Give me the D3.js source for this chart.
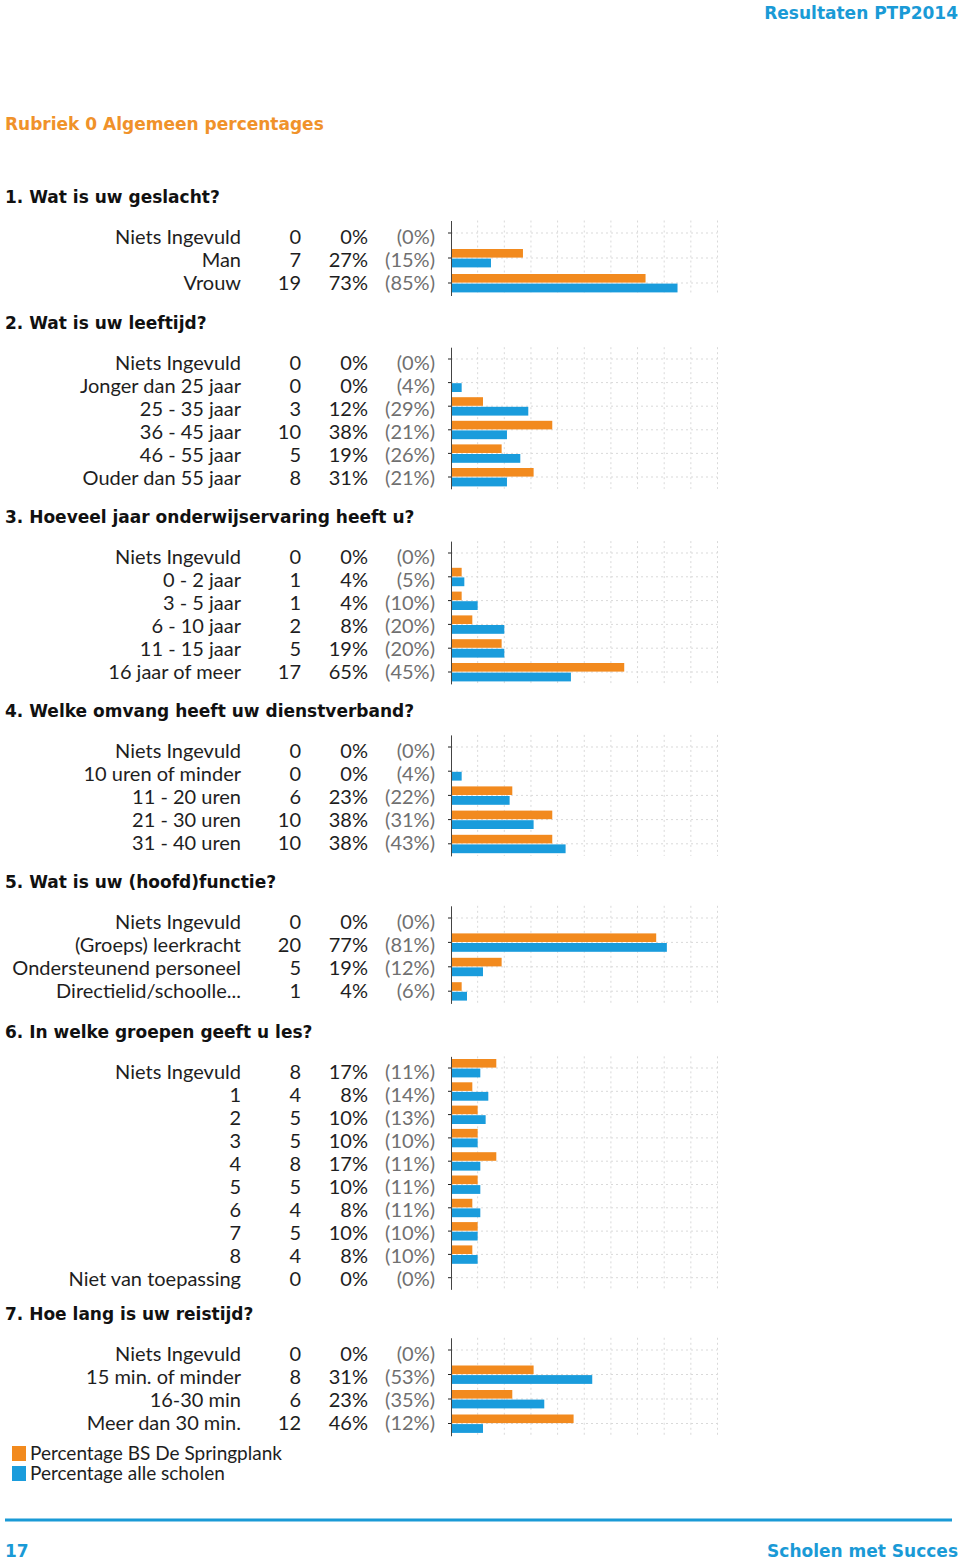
<!DOCTYPE html>
<html>
<head>
<meta charset="utf-8">
<script src="https://cdn.jsdelivr.net/npm/d3@7"></script>
<style>
  body { margin: 0; background: #fff; }
  svg { display: block; }
  .lbl { font-family: Lato, "Open Sans", sans-serif; font-size: 20px; fill: #1e1e1e; }
  .all { fill: #707070; }
  .legend { font-size: 19px; }
  .head { font-family: "DejaVu Sans", sans-serif; font-weight: bold; font-size: 17px; fill: #111; }
  .brand { font-family: "DejaVu Sans", sans-serif; font-weight: bold; }
</style>
</head>
<body>
<svg id="page" width="960" height="1561"></svg>
<script>
const ORANGE = "#f28a1e";
const BLUE = "#1a9cdc";

const QUESTIONS = [
  "1. Wat is uw geslacht?",
  "2. Wat is uw leeftijd?",
  "3. Hoeveel jaar onderwijservaring heeft u?",
  "4. Welke omvang heeft uw dienstverband?",
  "5. Wat is uw (hoofd)functie?",
  "6. In welke groepen geeft u les?",
  "7. Hoe lang is uw reistijd?"
];

const q1Labels = ["Niets Ingevuld", "Man", "Vrouw"];
const q1Counts = [0, 7, 19];
const q1School = [0, 27, 73];
const q1All = [0, 15, 85];

const q2Labels = ["Niets Ingevuld", "Jonger dan 25 jaar", "25 - 35 jaar", "36 - 45 jaar", "46 - 55 jaar", "Ouder dan 55 jaar"];
const q2Counts = [0, 0, 3, 10, 5, 8];
const q2School = [0, 0, 12, 38, 19, 31];
const q2All = [0, 4, 29, 21, 26, 21];

const q3Labels = ["Niets Ingevuld", "0 - 2 jaar", "3 - 5 jaar", "6 - 10 jaar", "11 - 15 jaar", "16 jaar of meer"];
const q3Counts = [0, 1, 1, 2, 5, 17];
const q3School = [0, 4, 4, 8, 19, 65];
const q3All = [0, 5, 10, 20, 20, 45];

const q4Labels = ["Niets Ingevuld", "10 uren of minder", "11 - 20 uren", "21 - 30 uren", "31 - 40 uren"];
const q4Counts = [0, 0, 6, 10, 10];
const q4School = [0, 0, 23, 38, 38];
const q4All = [0, 4, 22, 31, 43];

const q5Labels = ["Niets Ingevuld", "(Groeps) leerkracht", "Ondersteunend personeel", "Directielid/schoolle..."];
const q5Counts = [0, 20, 5, 1];
const q5School = [0, 77, 19, 4];
const q5All = [0, 81, 12, 6];

const q6Labels = ["Niets Ingevuld", "1", "2", "3", "4", "5", "6", "7", "8", "Niet van toepassing"];
const q6Counts = [8, 4, 5, 5, 8, 5, 4, 5, 4, 0];
const q6School = [17, 8, 10, 10, 17, 10, 8, 10, 8, 0];
const q6All = [11, 14, 13, 10, 11, 11, 11, 10, 10, 0];

const q7Labels = ["Niets Ingevuld", "15 min. of minder", "16-30 min", "Meer dan 30 min."];
const q7Counts = [0, 8, 6, 12];
const q7School = [0, 31, 23, 46];
const q7All = [0, 53, 35, 12];

const LEGEND = ["Percentage BS De Springplank", "Percentage alle scholen"];

// layout
const headingY = [196, 322, 516, 710, 881, 1031, 1313];
const chartStep = [25, 23.6, 23.8, 24.2, 24.4, 23.3, 24.5];
const textStep = 23.1;

const blocks = [
  [q1Labels, q1Counts, q1School, q1All],
  [q2Labels, q2Counts, q2School, q2All],
  [q3Labels, q3Counts, q3School, q3All],
  [q4Labels, q4Counts, q4School, q4All],
  [q5Labels, q5Counts, q5School, q5All],
  [q6Labels, q6Counts, q6School, q6All],
  [q7Labels, q7Counts, q7School, q7All]
].map((b, i) => ({
  title: QUESTIONS[i],
  rows: b[0].map((label, j) => ({ label, count: b[1][j], school: b[2][j], all: b[3][j] }))
}));

const svg = d3.select("#page");
const x = d3.scaleLinear().domain([0, 100]).range([451, 717.5]);

// page header
svg.append("text").attr("class", "brand")
  .attr("x", 958).attr("y", 19).attr("text-anchor", "end")
  .attr("font-size", 17).attr("fill", "#1a9ad6")
  .text("Resultaten PTP2014");
svg.append("text").attr("class", "brand")
  .attr("x", 5).attr("y", 130)
  .attr("font-size", 17).attr("fill", "#f0922a")
  .text("Rubriek 0 Algemeen percentages");

blocks.forEach((block, i) => {
  const g = svg.append("g");
  const h = headingY[i];
  g.append("text").attr("class", "head")
    .attr("x", 5).attr("y", h + 7)
    .text(block.title);

  const n = block.rows.length;
  const step = chartStep[i];
  const c0 = h + 37;
  const y = d3.scaleBand()
    .domain(block.rows.map(d => d.label))
    .range([c0 - step / 2, c0 - step / 2 + n * step]);
  const cy = d => y(d.label) + y.bandwidth() / 2;
  const [top, bottom] = y.range();

  // grid
  g.append("g").selectAll("line")
    .data(d3.range(10, 101, 10))
    .join("line")
    .attr("x1", d => x(d)).attr("x2", d => x(d))
    .attr("y1", top).attr("y2", bottom)
    .attr("stroke", "#d9d9d9").attr("stroke-dasharray", "2,3");
  g.append("g").selectAll("line")
    .data(block.rows)
    .join("line")
    .attr("x1", x(0)).attr("x2", x(100))
    .attr("y1", cy).attr("y2", cy)
    .attr("stroke", "#d9d9d9").attr("stroke-dasharray", "2,3");

  // bars
  g.append("g").selectAll("rect")
    .data(block.rows)
    .join("rect")
    .attr("x", x(0))
    .attr("y", d => cy(d) - 9)
    .attr("width", d => Math.max(1, x(d.school) - x(0)))
    .attr("height", 8.6)
    .attr("fill", ORANGE);
  g.append("g").selectAll("rect")
    .data(block.rows)
    .join("rect")
    .attr("x", x(0))
    .attr("y", d => cy(d) + 0.6)
    .attr("width", d => Math.max(1, x(d.all) - x(0)))
    .attr("height", 8.8)
    .attr("fill", BLUE);

  // axis
  const axis = g.append("g")
    .attr("transform", `translate(${x(0)},0)`)
    .call(d3.axisLeft(y).tickSize(3).tickSizeOuter(0).tickFormat(""));
  axis.select(".domain").attr("stroke", "#444");
  axis.selectAll(".tick line").attr("stroke", "#222");

  // text columns
  const rowY = (d, j) => h + 40.5 + j * textStep + 7;
  const cols = g.append("g").selectAll("g")
    .data(block.rows)
    .join("g");
  cols.append("text").attr("class", "lbl")
    .attr("x", 241).attr("y", rowY).attr("text-anchor", "end")
    .text(d => d.label);
  cols.append("text").attr("class", "lbl")
    .attr("x", 301).attr("y", rowY).attr("text-anchor", "end")
    .text(d => d.count);
  cols.append("text").attr("class", "lbl")
    .attr("x", 368).attr("y", rowY).attr("text-anchor", "end")
    .text(d => d.school + "%");
  cols.append("text").attr("class", "lbl all")
    .attr("x", 435).attr("y", rowY).attr("text-anchor", "end")
    .text(d => "(" + d.all + "%)");
});

// legend
const legend = svg.append("g").selectAll("g")
  .data(LEGEND)
  .join("g")
  .attr("transform", (d, i) => `translate(12,${1446 + i * 20})`);
legend.append("rect")
  .attr("width", 14).attr("height", 15)
  .attr("fill", (d, i) => i === 0 ? ORANGE : BLUE);
legend.append("text").attr("class", "lbl legend")
  .attr("x", 18).attr("y", 14)
  .text(d => d);

// footer
svg.append("line")
  .attr("x1", 5).attr("x2", 952).attr("y1", 1520).attr("y2", 1520)
  .attr("stroke", "#1a9ad6").attr("stroke-width", 3);
svg.append("text").attr("class", "brand")
  .attr("x", 5).attr("y", 1557)
  .attr("font-size", 17).attr("fill", "#1a9ad6")
  .text("17");
svg.append("text").attr("class", "brand")
  .attr("x", 958).attr("y", 1557).attr("text-anchor", "end")
  .attr("font-size", 17).attr("fill", "#1a9ad6")
  .text("Scholen met Succes");
</script>
</body>
</html>
